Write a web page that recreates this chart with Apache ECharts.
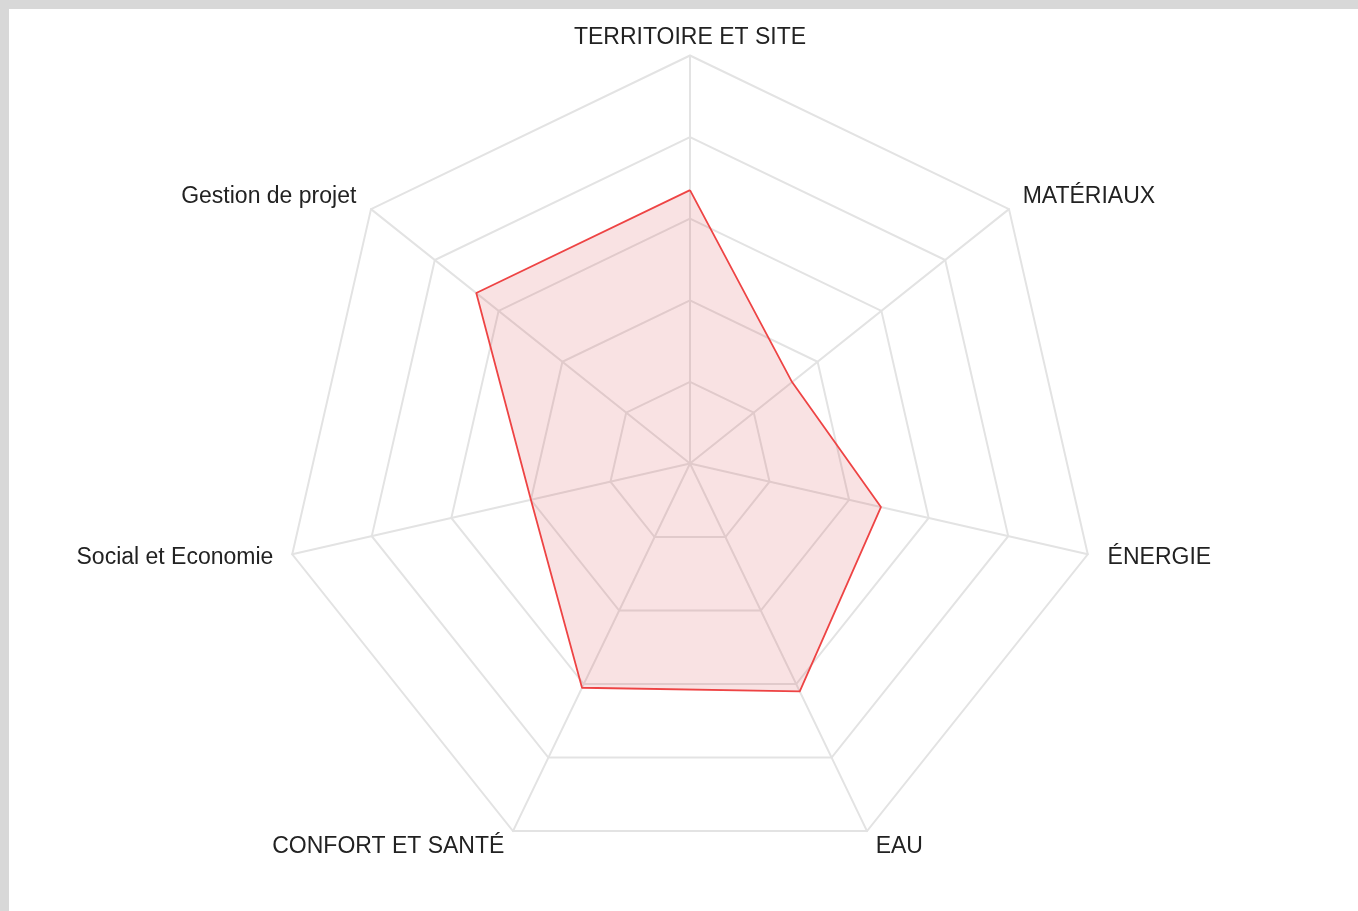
<!DOCTYPE html>
<html>
<head>
<meta charset="utf-8">
<script src="https://cdn.jsdelivr.net/npm/echarts@6/dist/echarts.min.js"></script>
<style>
  html, body { margin: 0; padding: 0; background: #d8d8d8; }
  #chart { position: absolute; left: 9px; top: 9px; width: 1349px; height: 902px; background: #fff; }
</style>
</head>
<body>
<div id="chart"></div>
<script>
// clockwise from the top
const categories = ['TERRITOIRE ET SITE', 'MATÉRIAUX', 'ÉNERGIE', 'EAU', 'CONFORT ET SANTÉ', 'Social et Economie', 'Gestion de projet']
const scores = [67, 32, 48, 62, 61, 40, 67]
const maxScore = 100

// label nudges (top, right, bottom, left), same clockwise order
const labelPadding = [
  [0, 0, 0, 0],
  [0, 0, 18, 9],
  [4, 0, 0, 14],
  [21, 0, 0, 6],
  [21, 6, 0, 0],
  [4, 13, 0, 0],
  [0, 10, 18, 0],
]

// echarts lays indicators out counter-clockwise, so keep the first and flip the rest
const order = [0].concat(categories.slice(1).map((_, i) => categories.length - 1 - i))

const rich = {}
categories.forEach((c, i) => {
  rich['k' + i] = {
    color: '#222',
    fontFamily: 'Liberation Sans',
    fontSize: 23,
    padding: labelPadding[i],
  }
})

const chart = echarts.init(document.getElementById('chart'))
chart.setOption({
  animation: false,
  radar: {
    center: [681, 454.5],
    radius: 408,
    shape: 'polygon',
    splitNumber: 5,
    nameGap: 6,
    indicator: order.map(i => ({ name: categories[i], max: maxScore })),
    axisName: {
      color: '#222',
      fontFamily: 'Liberation Sans',
      fontSize: 23,
      formatter: name => '{k' + categories.indexOf(name) + '|' + name + '}',
      rich,
    },
    splitArea: { show: false },
    axisLine: { lineStyle: { color: '#e3e3e3', width: 2 } },
    splitLine: { lineStyle: { color: '#e3e3e3', width: 2 } },
  },
  series: [{
    type: 'radar',
    symbol: 'none',
    data: [{
      value: order.map(i => scores[i]),
      lineStyle: { color: '#f04646', width: 1.8 },
      areaStyle: { color: 'rgba(215,50,60,0.2)' },
    }],
  }],
})
</script>
</body>
</html>
